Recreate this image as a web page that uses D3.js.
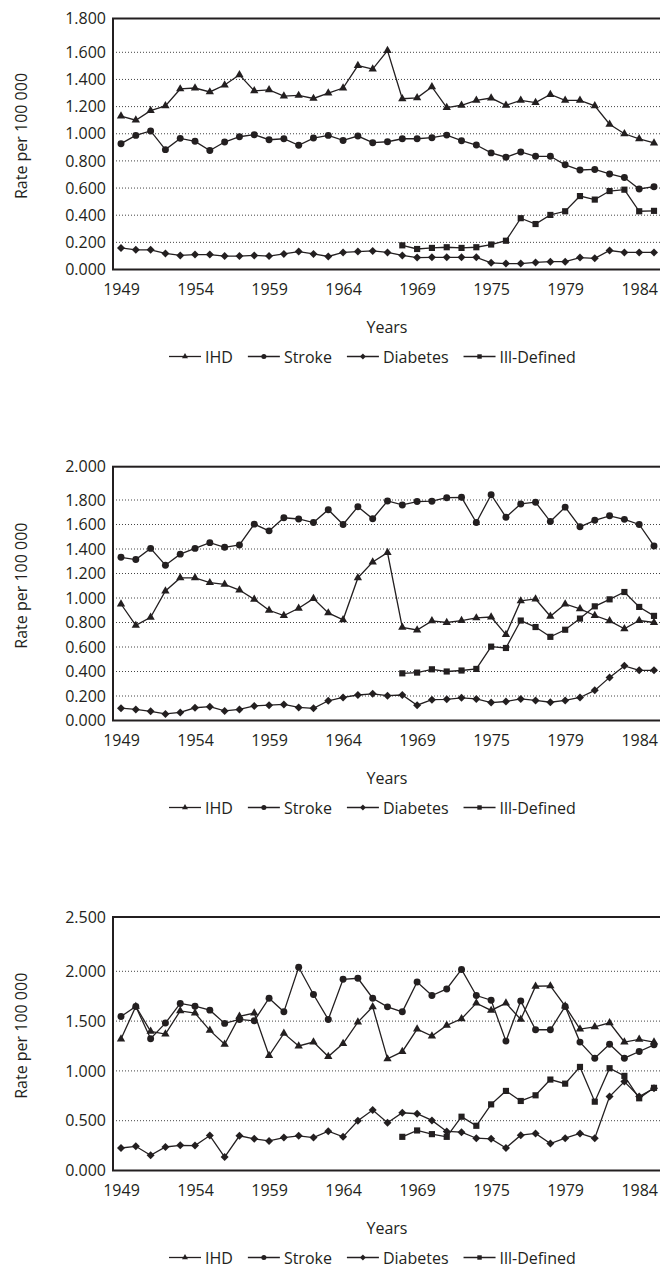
<html>
<head>
<script src="https://d3js.org/d3.v7.min.js"></script>
<style>
body { margin: 0; background: #fff; }
text { font-family: "Open Sans", sans-serif; fill: #231f20; }
</style>
</head>
<body>
<div id="chart"></div>
<script>
// categories: 37 yearly points, labelled every 5th slot
var nPoints = 37;
var xLabels = ["1949", "1954", "1959", "1964", "1969", "1975", "1979", "1984"];
var seriesNames = ["IHD", "Stroke", "Diabetes", "Ill-Defined"];

// panel 1
var ihd1 = [1.13,1.10,1.17,1.205,1.33,1.337,1.308,1.359,1.434,1.316, 1.323,1.277,1.282,1.26,1.30, 1.337,1.502,1.476,1.61,1.258, 1.265,1.345,1.193,1.21,1.246, 1.263,1.21,1.246,1.229,1.289, 1.246,1.246,1.205,1.07,1.0, 0.963,0.932];
var stroke1 = [0.927,0.988,1.021,0.883,0.966,0.944,0.876,0.939,0.978,0.993, 0.956,0.963,0.915,0.968,0.988, 0.951,0.983,0.934,0.941,0.963, 0.963,0.971,0.99,0.949,0.917, 0.859,0.827,0.866,0.834,0.834, 0.771,0.733,0.737,0.704,0.677, 0.593,0.61];
var diabetes1 = [0.159,0.145,0.145,0.118,0.104,0.11,0.11,0.099,0.099,0.104, 0.099,0.115,0.132,0.115,0.096, 0.126,0.132,0.137,0.126,0.104, 0.088,0.09,0.09,0.09,0.09, 0.049,0.044,0.044,0.052,0.058, 0.058,0.088,0.082,0.14,0.126, 0.126,0.126];
var ill1 = [null,null,null,null,null,null,null,null,null,null, null,null,null,null,null,null,null,null,null,
    0.178,0.151,0.159,0.164,0.159,0.164,0.184,0.212,0.378,0.335,0.402,0.429,0.541,0.515,0.578,0.588,0.429,0.432];

// panel 2
var ihd2 = [0.951,0.776,0.843,1.057,1.164,1.164,1.125,1.112,1.065,0.989, 0.9,0.857,0.916,0.995,0.878, 0.822,1.164,1.294,1.37,0.76, 0.739,0.813,0.8,0.816,0.837, 0.845,0.701,0.976,0.992,0.851, 0.951,0.911,0.857,0.813,0.749, 0.816,0.8];
var stroke2 = [1.332,1.314,1.405,1.268,1.358,1.405,1.452,1.414,1.433,1.603, 1.548,1.655,1.645,1.616,1.721, 1.6,1.745,1.647,1.792,1.76, 1.787,1.79,1.814,1.816,1.616, 1.832,1.66,1.768,1.782,1.624, 1.742,1.581,1.634,1.671,1.642, 1.6,1.425];
var diabetes2 = [0.101,0.09,0.075,0.054,0.066,0.104,0.113,0.078,0.09,0.119, 0.125,0.131,0.107,0.099,0.161, 0.188,0.208,0.218,0.203,0.208, 0.125,0.17,0.173,0.185,0.176, 0.146,0.155,0.176,0.164,0.149, 0.164,0.188,0.246,0.352,0.446, 0.41,0.41];
var ill2 = [null,null,null,null,null,null,null,null,null,null, null,null,null,null,null,null,null,null,null,
    0.385,0.391,0.418,0.4,0.408,0.421,0.603,0.592,0.816,0.763,0.683,0.741,0.832,0.932,0.989,1.049,0.927,0.854];

// panel 3
var ihd3 = [1.32,1.647,1.397,1.37,1.603,1.58,1.407,1.267,1.547,1.58, 1.154,1.377,1.25,1.29,1.144, 1.275,1.49,1.643,1.12,1.193, 1.42,1.35,1.457,1.523,1.68, 1.607,1.68,1.517,1.85,1.853, 1.65,1.42,1.443,1.483,1.29, 1.317,1.29];
var stroke3 = [1.547,1.647,1.323,1.48,1.677,1.65,1.61,1.477,1.517,1.503, 1.73,1.593,2.037,1.767,1.517, 1.92,1.93,1.73,1.643,1.593, 1.893,1.757,1.823,2.017,1.757, 1.71,1.299,1.703,1.413,1.413, 1.647,1.289,1.128,1.268,1.128, 1.195,1.262];
var diabetes3 = [0.226,0.243,0.152,0.236,0.253,0.25,0.351,0.135,0.348,0.318, 0.297,0.331,0.348,0.331,0.395, 0.338,0.5,0.607,0.48,0.58, 0.57,0.503,0.392,0.385,0.324, 0.318,0.226,0.355,0.372,0.27, 0.324,0.372,0.324,0.742,0.893, 0.742,0.826];
var ill3 = [null,null,null,null,null,null,null,null,null,null, null,null,null,null,null,null,null,null,null,
    0.338,0.402,0.365,0.338,0.54,0.449,0.664,0.799,0.698,0.755,0.913,0.872,1.04,0.691,1.027,0.95,0.725,0.83];

var yMax = [1.8, 2.0, 2.5];
var yStep = [0.2, 0.2, 0.5];

// layout of the three panels (top frame, last gridline below top, bottom axis)
var layout = [
    {top: 18.5, split: 52.3, bottom: 269.5},
    {top: 466.7, split: 500, bottom: 720.5},
    {top: 917, split: 971.3, bottom: 1170.5}
];
var panelData = [
    [ihd1, stroke1, diabetes1, ill1],
    [ihd2, stroke2, diabetes2, ill2],
    [ihd3, stroke3, diabetes3, ill3]
];
var markers = ["triangle", "circle", "diamond", "square"];

var left = 113, right = 664;
var ink = "#231f20";

var svg = d3.select("#chart").append("svg")
    .attr("width", 660)
    .attr("height", 1269);

var x = d3.scaleLinear().domain([0, nPoints - 1]).range([121, 654]);

function markerPath(type, k) {
    if (type == "diamond") {
        var r = 4 * k;
        return "M0," + (-r) + "L" + r + ",0L0," + r + "L" + (-r) + ",0Z";
    }
    var sym = {triangle: d3.symbolTriangle, circle: d3.symbolCircle, square: d3.symbolSquare}[type];
    var size = {triangle: 30, circle: 38, square: 38}[type];
    return d3.symbol().type(sym).size(size * k * k)();
}

layout.forEach(function(L, p) {
    var g = svg.append("g");
    var top = yMax[p], step = yStep[p];
    var y = d3.scaleLinear()
        .domain([0, top - step, top])
        .range([L.bottom, L.split, L.top]);
    var ticks = d3.range(0, top + step / 2, step);

    // dotted gridlines
    g.selectAll(".grid")
        .data(ticks.slice(1, -1))
        .enter().append("line")
        .attr("x1", left).attr("x2", right)
        .attr("y1", function(d) { return y(d); })
        .attr("y2", function(d) { return y(d); })
        .attr("stroke", "#444")
        .attr("stroke-width", 1)
        .attr("stroke-dasharray", "1,2");

    // frame
    g.append("rect")
        .attr("x", left).attr("y", L.top)
        .attr("width", right - left).attr("height", L.bottom - L.top)
        .attr("fill", "none")
        .attr("stroke", ink)
        .attr("stroke-width", 2);

    // y axis labels
    var ya = g.append("g")
        .attr("transform", "translate(" + left + ",0)")
        .call(d3.axisLeft(y).tickValues(ticks).tickFormat(d3.format(".3f")).tickSize(0).tickPadding(7));
    ya.select(".domain").remove();
    ya.selectAll("text").attr("font-family", "Open Sans").attr("font-size", 16).attr("fill", ink);

    // x axis labels
    var xa = g.append("g")
        .attr("transform", "translate(0," + L.bottom + ")")
        .call(d3.axisBottom(x).tickValues(d3.range(0, nPoints - 1, 5))
            .tickFormat(function(d, i) { return xLabels[i]; })
            .tickSize(0).tickPadding(14));
    xa.select(".domain").remove();
    xa.selectAll("text").attr("font-family", "Open Sans").attr("font-size", 16).attr("fill", ink);

    // titles
    g.append("text")
        .attr("transform", "translate(27," + ((L.top + L.bottom) / 2 - 8) + ") rotate(-90)")
        .attr("text-anchor", "middle")
        .attr("font-size", 16)
        .text("Rate per 100 000");
    g.append("text")
        .attr("x", 387).attr("y", L.bottom + 63)
        .attr("text-anchor", "middle")
        .attr("font-size", 16)
        .text("Years");

    // series
    var line = d3.line()
        .defined(function(d) { return d != null; })
        .x(function(d, i) { return x(i); })
        .y(function(d) { return y(d); });

    panelData[p].forEach(function(vals, s) {
        g.append("path")
            .attr("d", line(vals))
            .attr("fill", "none")
            .attr("stroke", ink)
            .attr("stroke-width", 1.3);
    });
    panelData[p].forEach(function(vals, s) {
        var pts = vals.map(function(v, i) { return {i: i, v: v}; })
            .filter(function(d) { return d.v != null; });
        g.selectAll(".m" + s)
            .data(pts)
            .enter().append("path")
            .attr("d", markerPath(markers[s], 1))
            .attr("transform", function(d) { return "translate(" + x(d.i) + "," + y(d.v) + ")"; })
            .attr("fill", ink);
    });

    // legend
    var leg = g.append("g").attr("transform", "translate(169," + (L.bottom + 93) + ")");
    var cx = 0;
    seriesNames.forEach(function(name, s) {
        leg.append("line")
            .attr("x1", cx).attr("x2", cx + 32)
            .attr("y1", -6).attr("y2", -6)
            .attr("stroke", ink).attr("stroke-width", 1.3);
        leg.append("path")
            .attr("d", markerPath(markers[s], 0.72))
            .attr("transform", "translate(" + (cx + 16) + ",-6)")
            .attr("fill", ink);
        var t = leg.append("text")
            .attr("x", cx + 36)
            .attr("font-size", 16)
            .text(name);
        cx += 36 + t.node().getComputedTextLength() + 15;
    });
});
</script>
</body>
</html>
